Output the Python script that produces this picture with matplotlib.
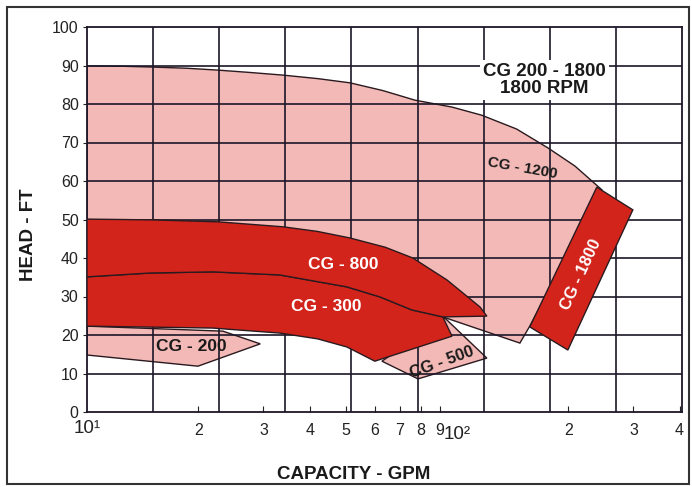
# Pump performance chart - CG 200 - 1800 series at 1800 RPM
import numpy as np
import matplotlib.pyplot as plt
from matplotlib.patches import Polygon, Rectangle

plt.rcParams['font.family'] = ['Liberation Sans', 'DejaVu Sans']

# Operating regions (capacity GPM, head FT)
cg1200_x = [10, 12.5, 15.0, 18.5, 22.6, 27.5, 33.9, 42.0, 51.4, 63.0, 77.0, 97.0, 116.6,
            145.0, 176.2, 208.4, 246.6, 157.4, 148.0, 91.6, 10]
cg1200_y = [89.9, 89.8, 89.6, 89.3, 88.8, 88.2, 87.5, 86.6, 85.5, 83.5, 81.0, 79.2, 77.1,
            73.5, 68.6, 63.9, 57.7, 22.3, 17.9, 24.7, 29.1]

cg800_x = [10, 15.0, 22.6, 33.9, 42.0, 51.4, 64.0, 76.0, 94.0, 115.4, 120.5,
           91.6, 75.6, 61.9, 50.4, 33.2, 21.9, 14.8, 10]
cg800_y = [50.1, 49.9, 49.4, 48.1, 46.9, 45.2, 42.8, 40.0, 34.3, 27.3, 24.9,
           24.7, 26.5, 29.9, 32.5, 35.6, 36.4, 36.1, 35.1]

cg300_x = [10, 14.8, 21.9, 33.2, 50.4, 61.9, 75.6, 91.6, 97.0, 60.0, 50.4, 42.0, 33.2, 21.9, 10]
cg300_y = [35.1, 36.1, 36.4, 35.6, 32.5, 29.9, 26.5, 24.7, 19.7, 13.2, 16.9, 19.0, 20.5, 21.8, 22.3]

cg500_x = [92.8, 120.5, 78.5, 62.7]
cg500_y = [24.4, 14.0, 8.6, 13.2]

cg200_x = [10, 23.3, 29.4, 19.95, 10]
cg200_y = [22.3, 21.0, 17.7, 11.9, 14.8]

cg1800_x = [238.9, 299.0, 199.5, 157.4]
cg1800_y = [58.4, 52.5, 16.1, 22.1]

pink = '#f2b9b6'
red = '#d3241c'
edge = '#2a1a1f'
gridc = '#1c1628'

fig = plt.figure(figsize=(6.92, 4.87), dpi=100)
ax = fig.add_axes([87/692, 75/487, 595/692, 385/487])
ax.set_xscale('log')
ax.set_xlim(10, 406)
ax.set_ylim(0, 100)

def region(xs, ys, color, z):
    ax.add_patch(Polygon(np.column_stack([xs, ys]), closed=True, facecolor=color,
                         edgecolor=edge, linewidth=1.0, zorder=z))

region(cg1200_x, cg1200_y, pink, 1)
region(cg500_x, cg500_y, pink, 1)
region(cg200_x, cg200_y, pink, 1)
region(cg300_x, cg300_y, red, 3)
region(cg800_x, cg800_y, red, 3)
region(cg1800_x, cg1800_y, red, 3)

# grid: horizontal every 10 ft, vertical lines evenly spaced (as on the original sheet)
for yv in range(10, 100, 10):
    ax.axhline(yv, color=gridc, lw=1.2, zorder=2)
for k in range(1, 9):
    ax.plot([k/9, k/9], [0, 1], transform=ax.transAxes, color=gridc, lw=1.2, zorder=2)

for s in ax.spines.values():
    s.set_color(gridc)
    s.set_linewidth(1.3)

# ticks
ax.set_yticks(range(0, 101, 10))
ax.tick_params(axis='y', direction='out', length=3, labelsize=11.5, pad=3, colors='#222222')
ax.set_xticks([10, 100])
ax.set_xticklabels(['10\u00b9', '10\u00b2'])
minor_vals = [20, 30, 40, 50, 60, 70, 80, 90, 200, 300, 400]
ax.set_xticks(minor_vals, minor=True)
ax.set_xticklabels([str(v)[0] for v in minor_vals], minor=True)
ax.tick_params(axis='x', which='both', direction='in', length=4, width=0.8,
               labelsize=11.5, pad=8, colors='#222222')
ax.tick_params(axis='x', which='major', length=0, labelsize=13.5, pad=6)
# the 10^2 label sits a little lower on the original sheet, clear of the 9
ax.get_xticklabels()[1].set_y(-0.016)
ax.get_xticklabels()[1].set_x(106)

ax.set_xlabel('CAPACITY - GPM', fontsize=13.5, fontweight='bold', color='#1a1a1a')
ax.xaxis.set_label_coords(0.449, -0.14)
ax.set_ylabel('HEAD - FT', fontsize=13.5, fontweight='bold', color='#1a1a1a')
ax.yaxis.set_label_coords(-0.084, 0.46)

# labels
ax.text(172.7, 86.2, 'CG 200 - 1800\n1800 RPM', fontsize=13.5, fontweight='bold',
        ha='center', va='center', linespacing=1.05, color='#1a1a1a', zorder=5,
        bbox=dict(facecolor='white', edgecolor='none', pad=2))
ax.text(150.8, 63.4, 'CG - 1200', fontsize=11, fontweight='bold', rotation=-10,
        ha='center', va='center', color='#1a1a1a', zorder=5)
ax.text(49.2, 38.2, 'CG - 800', fontsize=12.5, fontweight='bold', color='white',
        ha='center', va='center', zorder=5)
ax.text(44.4, 27.3, 'CG - 300', fontsize=12.5, fontweight='bold', color='white',
        ha='center', va='center', zorder=5)
ax.text(19.2, 16.9, 'CG - 200', fontsize=12.5, fontweight='bold', color='#1a1a1a',
        ha='center', va='center', zorder=5)
ax.text(91.2, 13.0, 'CG - 500', fontsize=12, fontweight='bold', color='#1a1a1a',
        rotation=20, ha='center', va='center', zorder=5)
ax.text(216, 35.6, 'CG - 1800', fontsize=12, fontweight='bold', color='white',
        rotation=65, ha='center', va='center', zorder=5)

# outer frame of the sheet
fig.patches.append(Rectangle((7/692, 3/487), 682/692, 477/487, transform=fig.transFigure,
                             fill=False, edgecolor='#333333', linewidth=1.5))

fig.savefig('out.png', dpi=100)
